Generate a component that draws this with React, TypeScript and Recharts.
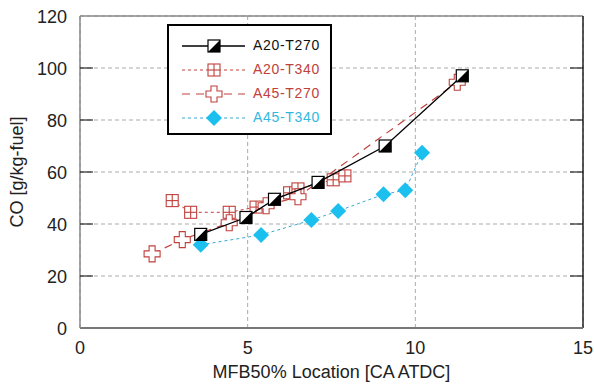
import { ScatterChart, Scatter, XAxis, YAxis, CartesianGrid, Legend, ReferenceLine } from 'recharts'

// values
const a20t270X = [3.6, 4.95, 5.8, 7.1, 9.1, 11.4]
const a20t270Y = [36, 42.5, 49.5, 56, 70, 97]

const a20t340X = [2.75, 3.3, 4.45, 5.25, 6.25, 6.5, 7.55, 7.9]
const a20t340Y = [49, 44.5, 44.5, 46.5, 52, 53.5, 57, 58.5]

const a45t270X = [2.15, 3.05, 4.45, 5.55, 6.5, 11.25]
const a45t270Y = [28.5, 34, 40.5, 47, 50.5, 94.5]

const a45t340X = [3.6, 5.4, 6.9, 7.7, 9.05, 9.7, 10.2]
const a45t340Y = [32, 35.8, 41.5, 45, 51.4, 53, 67.4]

const xTicks = [0, 5, 10, 15]
const yTicks = [0, 20, 40, 60, 80, 100, 120]

const toPoints = (xs: number[], ys: number[]) => xs.map((x, i) => ({ x, y: ys[i] }))

const RED = '#c0403c'
const CYAN = '#1cc0ee'
const FONT = '"Liberation Sans", Arial, sans-serif'

const W = 594
const H = 391
const PLOT_LEFT = 80
const PLOT_RIGHT = 583

// markers
const HalfSquare = ({ cx, cy }: any) => {
  const s = 6
  return (
    <g>
      <rect x={cx - s} y={cy - s} width={s * 2} height={s * 2} fill="#fff" stroke="#000" strokeWidth={1.2} />
      <polygon points={`${cx + s},${cy - s} ${cx + s},${cy + s} ${cx - s},${cy + s}`} fill="#000" />
    </g>
  )
}

const CrossSquare = ({ cx, cy }: any) => {
  const s = 6
  return (
    <g stroke={RED} strokeWidth={1.1} fill="#fff">
      <rect x={cx - s} y={cy - s} width={s * 2} height={s * 2} />
      <line x1={cx - s} x2={cx + s} y1={cy} y2={cy} />
      <line x1={cx} x2={cx} y1={cy - s} y2={cy + s} />
    </g>
  )
}

const PlusMark = ({ cx, cy }: any) => {
  const a = 3
  const b = 8
  const pts = [
    [-a, -b], [a, -b], [a, -a], [b, -a], [b, a], [a, a], [a, b], [-a, b], [-a, a], [-b, a], [-b, -a], [-a, -a],
  ]
    .map(([dx, dy]) => `${cx + dx},${cy + dy}`)
    .join(' ')
  return <polygon points={pts} fill="#fff" stroke={RED} strokeWidth={1.1} />
}

const Diamond = ({ cx, cy }: any) => {
  const r = 8
  return <polygon points={`${cx},${cy - r} ${cx + r},${cy} ${cx},${cy + r} ${cx - r},${cy}`} fill={CYAN} />
}

const series = [
  { name: 'A20-T270', color: '#000', text: '#111', dash: undefined, width: 1.3, Mark: HalfSquare },
  { name: 'A20-T340', color: RED, text: RED, dash: '3 3', width: 1, Mark: CrossSquare },
  { name: 'A45-T270', color: RED, text: RED, dash: '8 6', width: 1.2, Mark: PlusMark },
  { name: 'A45-T340', color: '#3aaad0', text: '#30b8e0', dash: '3 3', width: 1, Mark: Diamond },
]

const LegendBox = () => (
  <div
    style={{
      border: '2px solid #000',
      background: '#fff',
      width: 161,
      height: 107,
      boxSizing: 'content-box',
      fontFamily: FONT,
      fontSize: 14,
      letterSpacing: 0.7,
    }}
  >
    {series.map((s, i) => (
      <div key={s.name} style={{ position: 'relative', height: 24, marginTop: i === 0 ? 8 : 0 }}>
        <svg width={80} height={24} style={{ position: 'absolute', left: 0, top: 0 }}>
          <line x1={13} x2={76} y1={12} y2={12} stroke={s.color} strokeWidth={s.width} strokeDasharray={s.dash} />
          <s.Mark cx={45} cy={12} />
        </svg>
        <span style={{ position: 'absolute', left: 84, top: 3, color: s.text }}>{s.name}</span>
      </div>
    ))}
  </div>
)

const LeftTick = ({ x, y, payload }: any) => (
  <g>
    <text x={x} y={y} dy={6.5} textAnchor="end" fontSize={18} fill="#222" fontFamily={FONT}>
      {payload.value}
    </text>
    {payload.value > 0 && payload.value < 120 && (
      <g stroke="#000" strokeWidth={1}>
        <line x1={PLOT_LEFT} x2={PLOT_LEFT + 13} y1={y} y2={y} />
        <line x1={PLOT_RIGHT - 13} x2={PLOT_RIGHT} y1={y} y2={y} />
      </g>
    )}
  </g>
)

export default function App() {
  return (
    <div style={{ position: 'absolute', left: 0, top: 0, width: W, height: H, background: '#fff' }}>
      <ScatterChart width={W} height={H} margin={{ top: 16, right: W - PLOT_RIGHT, bottom: 0, left: 0 }}>
        <CartesianGrid stroke="#aaa" strokeDasharray="4 3" />
        <XAxis
          type="number"
          dataKey="x"
          domain={[0, 15]}
          ticks={xTicks}
          height={63}
          tickSize={0}
          tickLine={false}
          tickMargin={13}
          axisLine={{ stroke: '#777', strokeWidth: 2 }}
          tick={{ fontSize: 18, fill: '#222', fontFamily: FONT }}
          label={{
            value: 'MFB50% Location [CA ATDC]',
            position: 'insideBottom',
            offset: 13,
            style: { fontSize: 18, fill: '#222', fontFamily: FONT },
          }}
        />
        <YAxis
          type="number"
          dataKey="y"
          domain={[0, 120]}
          ticks={yTicks}
          width={PLOT_LEFT}
          tickSize={0}
          tickLine={false}
          tickMargin={13}
          axisLine={{ stroke: '#888', strokeWidth: 1.5 }}
          tick={<LeftTick />}
          label={{
            value: 'CO [g/kg-fuel]',
            angle: -90,
            position: 'insideLeft',
            offset: 17,
            style: { fontSize: 18, fill: '#222', fontFamily: FONT, textAnchor: 'middle' },
          }}
        />
        <ReferenceLine y={120} stroke="#888" strokeWidth={1.5} />
        <ReferenceLine x={15} stroke="#222" strokeWidth={1.5} />
        <Legend
          layout="vertical"
          align="center"
          verticalAlign="middle"
          content={<LegendBox />}
          wrapperStyle={{ left: 167, top: 24, width: 'auto', bottom: 'auto', right: 'auto' }}
        />
        <Scatter
          name="A20-T340"
          data={toPoints(a20t340X, a20t340Y)}
          line={{ stroke: RED, strokeWidth: 1, strokeDasharray: '3 3' }}
          shape={<CrossSquare />}
          isAnimationActive={false}
        />
        <Scatter
          name="A45-T270"
          data={toPoints(a45t270X, a45t270Y)}
          line={{ stroke: RED, strokeWidth: 1.2, strokeDasharray: '8 6' }}
          shape={<PlusMark />}
          isAnimationActive={false}
        />
        <Scatter
          name="A45-T340"
          data={toPoints(a45t340X, a45t340Y)}
          line={{ stroke: '#3aaad0', strokeWidth: 1, strokeDasharray: '3 3' }}
          shape={<Diamond />}
          isAnimationActive={false}
        />
        <Scatter
          name="A20-T270"
          data={toPoints(a20t270X, a20t270Y)}
          line={{ stroke: '#000', strokeWidth: 1.3 }}
          shape={<HalfSquare />}
          isAnimationActive={false}
        />
      </ScatterChart>
    </div>
  )
}
